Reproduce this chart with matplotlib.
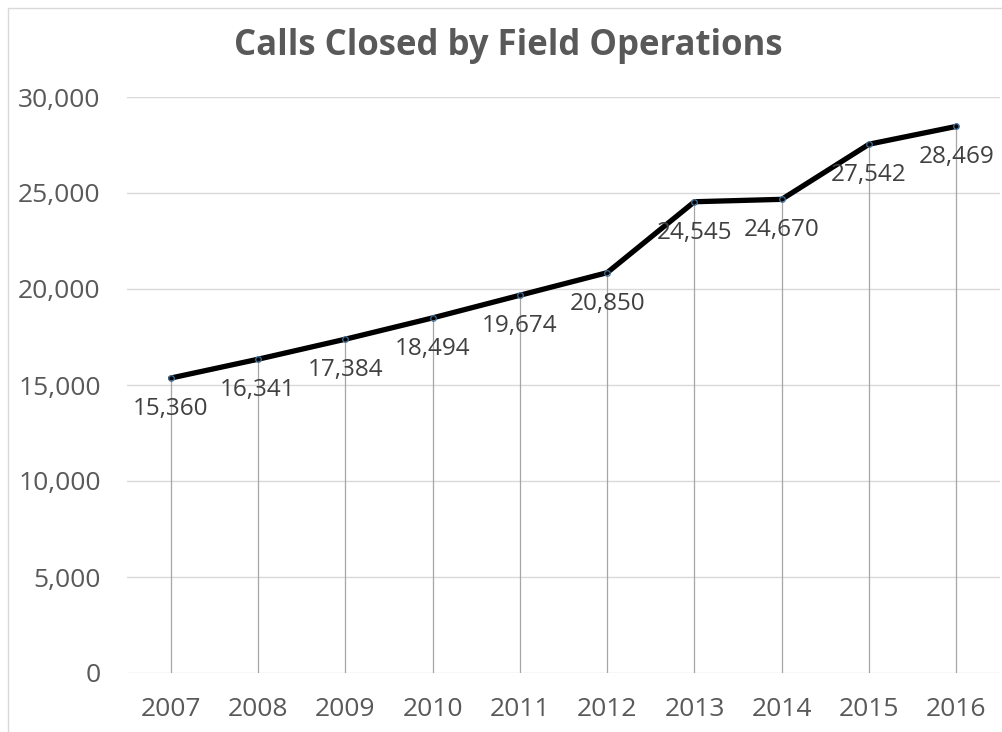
import matplotlib
matplotlib.use("Agg")

import matplotlib.pyplot as plt
from matplotlib.patches import Rectangle
from matplotlib.ticker import FuncFormatter

# Chart data
years = ["2007", "2008", "2009", "2010", "2011", "2012", "2013", "2014", "2015", "2016"]
calls_closed = [15360, 16341, 17384, 18494, 19674, 20850, 24545, 24670, 27542, 28469]
y_ticks = [0, 5000, 10000, 15000, 20000, 25000, 30000]

TEXT = "#595959"
GRID = "#d9d9d9"
DROP = "#a6a6a6"

plt.rcParams["font.family"] = ["Open Sans", "DejaVu Sans"]

fig = plt.figure(figsize=(10.03, 7.32), dpi=100)
ax = fig.add_axes([127 / 1003, 1 - 673 / 732, (1000 - 127) / 1003, (673 - 97) / 732])

x = list(range(len(years)))

# drop lines from each point to the axis
ax.vlines(x, 0, calls_closed, color=DROP, linewidth=0.9, zorder=2)

ax.plot(x, calls_closed, color="black", linewidth=3.8, zorder=3,
        marker="o", markersize=4, markerfacecolor="none",
        markeredgecolor="#41719c", markeredgewidth=0.9, solid_capstyle="round")

for xi, v in zip(x, calls_closed):
    ax.annotate(f"{v:,}", (xi, v), xytext=(0, -31), textcoords="offset pixels",
                ha="center", va="center", fontsize=17.5, color="#404040", zorder=4)

ax.set_xlim(-0.5, len(years) - 0.5)
ax.set_ylim(0, 30000)
ax.set_yticks(y_ticks)
ax.yaxis.set_major_formatter(FuncFormatter(lambda v, p: f"{int(v):,}"))
ax.set_xticks(x)
ax.set_xticklabels(years)
ax.grid(axis="y", color=GRID, linewidth=1.0, zorder=0)
ax.tick_params(length=0, labelsize=19, colors=TEXT)
ax.tick_params(axis="y", pad=19)
ax.tick_params(axis="x", pad=17)
for s in ax.spines.values():
    s.set_visible(False)

fig.text(0.507, 1 - 46 / 732, "Calls Closed by Field Operations", ha="center", va="center",
         fontsize=25, fontweight="bold", color=TEXT)

# chart border
fig.patches.append(Rectangle((8 / 1003, -0.01), 1.02, 1 - 8 / 732 + 0.01,
                             transform=fig.transFigure, fill=False,
                             edgecolor="#d9d9d9", linewidth=1.0))

fig.savefig("out.png", dpi=100)
plt.close(fig)
